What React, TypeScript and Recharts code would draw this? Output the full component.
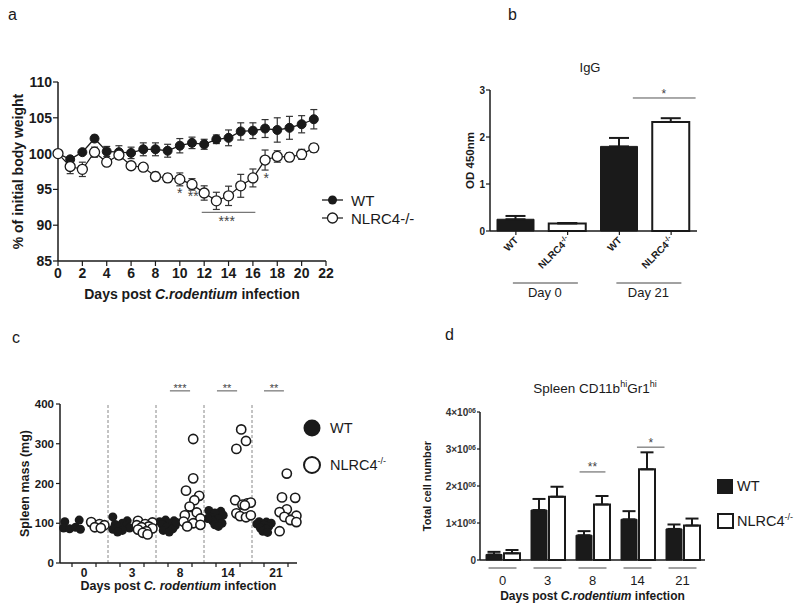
import React from 'react';
import {
  LineChart, Line, BarChart, Bar, Cell, ScatterChart, Scatter,
  XAxis, YAxis, ErrorBar, ReferenceLine, ReferenceDot,
} from 'recharts';

const FONT = '"Liberation Sans", Arial, Helvetica, sans-serif';
const INK = '#1a1a1a';
const STAR = '#444';

// ---- a: body weight ----
const days = [0, 1, 2, 3, 4, 5, 6, 7, 8, 9, 10, 11, 12, 13, 14, 15, 16, 17, 18, 19, 20, 21];
const wtWeight = [100, 99.2, 100.2, 102.1, 100.3, 100.2, 100.1, 100.6, 100.6, 100.4, 101.1, 101.5, 101.3, 102.0, 102.2, 103.1, 103.2, 103.5, 103.3, 103.6, 104.1, 104.8];
const wtWeightSem = [0, 0.3, 0.3, 0.45, 0.7, 0.9, 0.8, 0.9, 0.9, 0.9, 1.0, 0.8, 0.7, 0.6, 1.1, 1.2, 1.1, 1.25, 1.7, 1.6, 1.2, 1.35];
const koWeight = [100, 98.2, 97.8, 100.2, 98.8, 99.8, 98.3, 98.1, 96.8, 96.6, 96.4, 95.7, 94.5, 93.4, 94.1, 95.5, 96.6, 99.1, 99.6, 99.5, 99.9, 100.8];
const koWeightSem = [0, 1.0, 1.0, 0.7, 0.3, 0.6, 0.5, 0.5, 0.6, 0.6, 0.9, 0.8, 1.0, 1.2, 1.35, 1.6, 1.25, 1.4, 0.8, 0.6, 0.7, 0.6];
const weightTicksX = [0, 2, 4, 6, 8, 10, 12, 14, 16, 18, 20, 22];
const weightTicksY = [85, 90, 95, 100, 105, 110];
const weightStars = [
  { day: 10, y: 94.5, text: '*' },
  { day: 11.1, y: 94.1, text: '**' },
  { day: 13.85, y: 90.6, text: '***' },
  { day: 17.1, y: 96.55, text: '*' },
];
const weightSigLine = { from: 11.8, to: 16.2, y: 91.8 };

// ---- b: IgG ----
const igGenotypes = ['WT', 'NLRC4', 'WT', 'NLRC4'];
const igValue = [0.25, 0.16, 1.8, 2.32];
const igSem = [0.07, 0.01, 0.18, 0.08];
const igDays = ['Day 0', 'Day 21'];
const igTicksY = [0, 1, 2, 3];

// ---- c: spleen mass, [mg, jitter] per mouse ----
const spleenDays = ['0', '3', '8', '14', '21'];
const wtSpleen: [number, number][][] = [
  [[104, -0.3], [108, 0.3], [88, -0.35], [86, -0.1], [90, 0.15], [85, 0.35]],
  [[116, -0.3], [106, 0.3], [100, 0.1], [97, -0.2], [93, 0.25], [90, -0.05], [88, 0.4], [85, -0.3], [82, 0.1], [78, -0.1]],
  [[108, -0.1], [106, 0.25], [104, -0.35], [100, 0.05], [97, -0.25], [94, 0.3], [90, -0.05], [86, 0.2], [82, -0.2], [78, 0.05], [102, 0.35]],
  [[132, -0.3], [130, 0.2], [126, -0.05], [120, 0.3], [115, -0.25], [110, 0.1], [106, -0.15], [100, 0.25], [96, -0.05], [92, 0.1], [112, -0.35]],
  [[104, -0.2], [103, 0.1], [100, 0.3], [98, -0.3], [95, 0.0], [92, 0.2], [88, -0.15], [85, 0.1], [80, -0.05], [77, 0.15]],
];
const koSpleen: [number, number][][] = [
  [[103, -0.2], [98, 0.15], [95, 0.35], [90, -0.05], [88, 0.2]],
  [[106, -0.25], [102, 0.35], [98, 0.05], [95, -0.3], [92, 0.2], [90, -0.1], [87, 0.35], [84, -0.25], [80, 0.1], [76, -0.05], [72, 0.15]],
  [[312, 0.05], [213, 0.05], [182, -0.25], [169, 0.3], [158, 0.1], [142, -0.1], [127, 0.2], [120, -0.3], [112, 0.35], [104, -0.35], [100, 0.05], [92, -0.2], [96, 0.35]],
  [[336, 0.05], [307, 0.25], [287, -0.15], [158, -0.2], [150, 0.3], [147, 0.1], [152, 0.45], [145, 0.2], [125, -0.15], [118, 0.0], [115, 0.25], [120, 0.45]],
  [[225, -0.05], [165, -0.25], [164, 0.3], [135, -0.05], [128, -0.35], [119, 0.35], [116, -0.15], [108, 0.1], [103, 0.35], [80, -0.35]],
];
const wtSpleenMedian = [89, 92, 88, 105, 100];
const koSpleenMedian = [94, 88, 130, 150, 120];
const spleenTicksY = [0, 100, 200, 300, 400];
const spleenSig = [
  { from: 4.08, to: 4.92, y: 433, text: '***' },
  { from: 6.04, to: 6.88, y: 433, text: '**' },
  { from: 8.0, to: 8.83, y: 433, text: '**' },
];

// ---- d: CD11b hi Gr1 hi cells ----
const cellDays = ['0', '3', '8', '14', '21'];
const wtCells = [150000, 1350000, 670000, 1100000, 840000];
const wtCellsSem = [70000, 300000, 110000, 220000, 120000];
const koCells = [180000, 1710000, 1500000, 2450000, 930000];
const koCellsSem = [90000, 270000, 230000, 460000, 190000];
const cellTicksY = [0, 1000000, 2000000, 3000000, 4000000];
const cellSig = [
  { from: 1.77, to: 2.23, y: 2380000, text: '**' },
  { from: 2.79, to: 3.28, y: 3050000, text: '*' },
];

const weightData = days.map((d, i) => ({ day: d, wt: wtWeight[i], wtSem: wtWeightSem[i], ko: koWeight[i], koSem: koWeightSem[i] }));
const igData = igGenotypes.map((g, i) => ({ key: `${g}-${i}`, value: igValue[i], sem: [0, igSem[i]] }));
const toPoints = (groups: [number, number][][], side: number) =>
  groups.flatMap((g, gi) => g.map(([v, dx]) => ({ x: gi * 2 + side + dx, y: v })));
const wtSpleenPts = toPoints(wtSpleen, 0);
const koSpleenPts = toPoints(koSpleen, 1);
const cellData = cellDays.map((d, i) => ({ day: d, wt: wtCells[i], wtSem: [0, wtCellsSem[i]], ko: koCells[i], koSem: [0, koCellsSem[i]] }));

const axisLine = { stroke: INK, strokeWidth: 1.5 };
const tickLine = { stroke: INK, strokeWidth: 1.2 };

const vTitle = (content: React.ReactNode, x: number, size: number) => (props: any) => {
  const vb = props.viewBox;
  const cy = vb.y + vb.height / 2;
  return (
    <text x={x} y={cy} transform={`rotate(-90, ${x}, ${cy})`} textAnchor="middle" dominantBaseline="central"
      fontFamily={FONT} fontSize={size} fontWeight="bold" fill={INK}>{content}</text>
  );
};
const hTitle = (content: React.ReactNode, dy: number, size: number) => (props: any) => {
  const vb = props.viewBox;
  return (
    <text x={vb.x + vb.width / 2} y={vb.y + dy} textAnchor="middle" fontFamily={FONT} fontSize={size} fontWeight="bold" fill={INK}>{content}</text>
  );
};

const WeightChart = () => (
  <LineChart width={400} height={310} data={weightData} margin={{ top: 82, right: 74, bottom: 9, left: 0 }}>
    <XAxis dataKey="day" type="number" domain={[0, 22]} ticks={weightTicksX} interval={0} height={40}
      axisLine={axisLine} tickLine={tickLine} tickSize={5} tickMargin={2}
      tick={{ fill: INK, fontSize: 14, fontWeight: 'bold', fontFamily: FONT }}
      label={hTitle(<>Days post <tspan fontStyle="italic">C.rodentium</tspan> infection</>, 38, 14)} />
    <YAxis type="number" domain={[85, 110]} ticks={weightTicksY} interval={0} width={58}
      axisLine={axisLine} tickLine={tickLine} tickSize={5} tickMargin={1}
      tick={{ fill: INK, fontSize: 14, fontWeight: 'bold', fontFamily: FONT }}
      label={vTitle('% of initial body weight', 18, 14)} />
    <ReferenceLine segment={[{ x: weightSigLine.from, y: weightSigLine.y }, { x: weightSigLine.to, y: weightSigLine.y }]} stroke="#555" strokeWidth={1} />
    {weightStars.map((s, i) => (
      <ReferenceDot key={i} x={s.day} y={s.y} r={0} stroke="none" fill="none" ifOverflow="visible"
        label={{ value: s.text, fill: STAR, fontSize: 14, fontFamily: FONT }} />
    ))}
    <Line dataKey="wt" stroke={INK} strokeWidth={1.3} isAnimationActive={false}
      dot={{ r: 4.5, fill: INK, stroke: INK, strokeWidth: 1 }}>
      <ErrorBar dataKey="wtSem" width={3.5} stroke="#333" strokeWidth={1.2} />
    </Line>
    <Line dataKey="ko" stroke={INK} strokeWidth={1.2} isAnimationActive={false}
      dot={{ r: 5, fill: '#fff', stroke: INK, strokeWidth: 1.3 }}>
      <ErrorBar dataKey="koSem" width={3.5} stroke="#333" strokeWidth={1.2} />
    </Line>
  </LineChart>
);

const IgTick = (props: any) => {
  const { x, y, index } = props;
  const ko = index % 2 === 1;
  return (
    <g fontFamily={FONT}>
      <text transform={`translate(${x + 3},${y + 4}) rotate(-45)`} textAnchor="end" fontSize={10} fontWeight="bold" fill={INK}>
        {ko ? <>NLRC4<tspan fontSize={7} dy={-4}>-/-</tspan></> : 'WT'}
      </text>
      {!ko && (
        <g>
          <line x1={x - 3} x2={x + 62} y1={y + 46} y2={y + 46} stroke="#444" strokeWidth={1} />
          <text x={x + 29} y={y + 60} textAnchor="middle" fontSize={13} fill={INK}>{igDays[index / 2]}</text>
        </g>
      )}
    </g>
  );
};

const IgChart = () => (
  <BarChart width={310} height={250} data={igData} margin={{ top: 30, right: 13, bottom: 0, left: 0 }} barSize={37}>
    <XAxis dataKey="key" height={79} axisLine={axisLine} tickLine={tickLine} tickSize={4} tickMargin={2} interval={0} tick={<IgTick />} />
    <XAxis xAxisId="n" type="number" domain={[-0.5, 3.5]} allowDataOverflow hide />
    <YAxis type="number" domain={[0, 3]} ticks={igTicksY} interval={0} width={90}
      axisLine={axisLine} tickLine={tickLine} tickSize={4} tickMargin={1}
      tick={{ fill: INK, fontSize: 10, fontWeight: 'bold', fontFamily: FONT }}
      label={vTitle('OD 450nm', 70, 11.5)} />
    <Bar dataKey="value" isAnimationActive={false}>
      {igData.map((_, i) => (
        <Cell key={i} fill={i % 2 === 0 ? INK : '#fff'} stroke={INK} strokeWidth={i % 2 === 0 ? 1 : 2} />
      ))}
      <ErrorBar dataKey="sem" width={10} stroke={INK} strokeWidth={2} />
    </Bar>
    <ReferenceLine xAxisId="n" segment={[{ x: 2.07, y: 2.83 }, { x: 2.98, y: 2.83 }]} stroke="#555" ifOverflow="visible" />
    <ReferenceDot xAxisId="n" x={2.52} y={2.93} r={0} stroke="none" fill="none" ifOverflow="visible"
      label={{ value: '*', fill: STAR, fontSize: 12, fontFamily: FONT }} />
  </BarChart>
);

const SpleenTick = (props: any) => {
  const { x, y, index } = props;
  if (index % 2 !== 0) return <g />;
  return (
    <text x={x + 12} y={y} dy="0.71em" textAnchor="middle" fontFamily={FONT} fontSize={12} fontWeight="bold" fill={INK}>
      {spleenDays[index / 2]}
    </text>
  );
};

const SpleenChart = () => (
  <ScatterChart width={400} height={309} margin={{ top: 104, right: 103, bottom: 0, left: 0 }}>
    <XAxis dataKey="x" type="number" domain={[-0.5, 9.375]} ticks={[0, 1, 2, 3, 4, 5, 6, 7, 8, 9]} interval={0} height={46}
      axisLine={axisLine} tickLine={tickLine} tickSize={4} tickMargin={1} tick={<SpleenTick />}
      label={hTitle(<>Days post <tspan fontStyle="italic">C. rodentium</tspan> infection</>, 27, 12.5)} />
    <YAxis dataKey="y" type="number" domain={[0, 400]} ticks={spleenTicksY} interval={0} width={60}
      axisLine={axisLine} tickLine={tickLine} tickSize={4} tickMargin={2}
      tick={{ fill: INK, fontSize: 11.5, fontWeight: 'bold', fontFamily: FONT }}
      label={vTitle('Spleen mass (mg)', 25, 12.5)} />
    {[1.5, 3.5, 5.5, 7.5].map((x) => (
      <ReferenceLine key={x} x={x} stroke="#888" strokeDasharray="3 2" strokeWidth={1} />
    ))}
    <Scatter data={wtSpleenPts} isAnimationActive={false}
      shape={(p: any) => <circle cx={p.cx} cy={p.cy} r={4.5} fill={INK} />} />
    <Scatter data={koSpleenPts} isAnimationActive={false}
      shape={(p: any) => <circle cx={p.cx} cy={p.cy} r={4.6} fill="#fff" stroke={INK} strokeWidth={1.6} />} />
    {wtSpleenMedian.map((m, i) => (
      <ReferenceLine key={`w${i}`} segment={[{ x: i * 2 - 0.35, y: m }, { x: i * 2 + 0.35, y: m }]} stroke={INK} strokeWidth={1.8} />
    ))}
    {koSpleenMedian.map((m, i) => (
      <ReferenceLine key={`k${i}`} segment={[{ x: i * 2 + 0.65, y: m }, { x: i * 2 + 1.35, y: m }]} stroke={INK} strokeWidth={1.8} />
    ))}
    {spleenSig.map((s, i) => (
      <ReferenceLine key={`s${i}`} segment={[{ x: s.from, y: s.y }, { x: s.to, y: s.y }]} stroke="#555" ifOverflow="visible" />
    ))}
    {spleenSig.map((s, i) => (
      <ReferenceDot key={`t${i}`} x={(s.from + s.to) / 2} y={s.y + 8} r={0} stroke="none" fill="none" ifOverflow="visible"
        label={{ value: s.text, fill: STAR, fontSize: 11, fontFamily: FONT }} />
    ))}
  </ScatterChart>
);

const CellTickY = (props: any) => {
  const { x, y, payload } = props;
  const v = payload.value;
  return (
    <text x={x} y={y} dy={3.5} textAnchor="end" fontFamily={FONT} fontSize={10} fontWeight="bold" fill="#333">
      {v === 0 ? '0' : <>{v / 1000000}×10<tspan fontSize={7} dy={-3}>06</tspan></>}
    </text>
  );
};

const CellTickX = (props: any) => {
  const { x, y, index } = props;
  return (
    <g>
      <line x1={x - 14} x2={x + 14} y1={y + 8} y2={y + 8} stroke="#444" strokeWidth={1} />
      <text x={x} y={y + 25} textAnchor="middle" fontFamily={FONT} fontSize={13} fill={INK}>{cellDays[index]}</text>
    </g>
  );
};

const CellChart = () => (
  <BarChart width={400} height={289} data={cellData} margin={{ top: 92, right: 95, bottom: 0, left: 0 }} barSize={16} barGap={2}>
    <XAxis dataKey="day" height={49} axisLine={axisLine} tickLine={false} tickSize={0} tickMargin={0} interval={0}
      tick={<CellTickX />}
      label={hTitle(<>Days post <tspan fontStyle="italic">C.rodentium</tspan> infection</>, 40, 12)} />
    <XAxis xAxisId="n" type="number" domain={[-0.5, 4.5]} allowDataOverflow hide />
    <YAxis type="number" domain={[0, 4000000]} ticks={cellTicksY} interval={0} width={80}
      axisLine={axisLine} tickLine={tickLine} tickSize={3} tickMargin={1} tick={<CellTickY />}
      label={vTitle('Total cell number', 27, 11)} />
    <Bar dataKey="wt" fill={INK} stroke={INK} strokeWidth={1} isAnimationActive={false}>
      <ErrorBar dataKey="wtSem" width={6.5} stroke={INK} strokeWidth={2} />
    </Bar>
    <Bar dataKey="ko" fill="#fff" stroke={INK} strokeWidth={2} isAnimationActive={false}>
      <ErrorBar dataKey="koSem" width={6.5} stroke={INK} strokeWidth={2} />
    </Bar>
    {cellSig.map((s, i) => (
      <ReferenceLine key={`l${i}`} xAxisId="n" segment={[{ x: s.from, y: s.y }, { x: s.to, y: s.y }]} stroke="#555" ifOverflow="visible" />
    ))}
    {cellSig.map((s, i) => (
      <ReferenceDot key={`t${i}`} xAxisId="n" x={(s.from + s.to) / 2} y={s.y + 130000} r={0} stroke="none" fill="none" ifOverflow="visible"
        label={{ value: s.text, fill: STAR, fontSize: 12, fontFamily: FONT }} />
    ))}
  </BarChart>
);

const Overlay = () => (
  <svg width={800} height={609} style={{ position: 'absolute', left: 0, top: 0, pointerEvents: 'none' }} fontFamily={FONT}>
    <text x={8} y={20} fontSize={16} fill={INK}>a</text>
    <text x={508} y={20} fontSize={16} fill={INK}>b</text>
    <text x={12} y={343} fontSize={16} fill={INK}>c</text>
    <text x={445} y={340} fontSize={16} fill={INK}>d</text>

    {/* legend a */}
    <line x1={322} x2={343} y1={200} y2={200} stroke={INK} strokeWidth={1.3} />
    <circle cx={332.5} cy={200} r={4.5} fill={INK} />
    <text x={351} y={205.5} fontSize={15} fill={INK}>WT</text>
    <line x1={322} x2={343} y1={218} y2={218} stroke={INK} strokeWidth={1.2} />
    <circle cx={332.5} cy={218} r={5} fill="#fff" stroke={INK} strokeWidth={1.3} />
    <text x={351} y={223.5} fontSize={15} fill={INK}>NLRC4-/-</text>

    <text x={590} y={72} fontSize={13} textAnchor="middle" fill={INK}>IgG</text>

    {/* legend c */}
    <circle cx={312} cy={428} r={8.5} fill={INK} />
    <text x={330} y={433} fontSize={14.5} fill={INK}>WT</text>
    <circle cx={312} cy={465} r={8} fill="#fff" stroke={INK} strokeWidth={2} />
    <text x={330} y={470} fontSize={14.5} fill={INK}>NLRC4<tspan fontSize={9} dy={-6}>-/-</tspan></text>

    <text x={595} y={393} fontSize={13.5} textAnchor="middle" fill={INK}>
      Spleen CD11b<tspan fontSize={9} dy={-6}>hi</tspan><tspan dy={6}>Gr1</tspan><tspan fontSize={9} dy={-6}>hi</tspan>
    </text>

    {/* legend d */}
    <rect x={717} y={479} width={16} height={15} fill={INK} />
    <text x={737} y={491} fontSize={14.5} fill={INK}>WT</text>
    <rect x={718} y={514} width={15} height={14} fill="#fff" stroke={INK} strokeWidth={2} />
    <text x={737} y={526} fontSize={14.5} fill={INK}>NLRC4<tspan fontSize={9} dy={-6}>-/-</tspan></text>
  </svg>
);

export default function App() {
  return (
    <div style={{ position: 'absolute', left: 0, top: 0, width: 800, height: 609, background: '#fff', fontFamily: FONT }}>
      <div style={{ position: 'absolute', left: 0, top: 0 }}><WeightChart /></div>
      <div style={{ position: 'absolute', left: 400, top: 60 }}><IgChart /></div>
      <div style={{ position: 'absolute', left: 0, top: 300 }}><SpleenChart /></div>
      <div style={{ position: 'absolute', left: 400, top: 320 }}><CellChart /></div>
      <Overlay />
    </div>
  );
}
